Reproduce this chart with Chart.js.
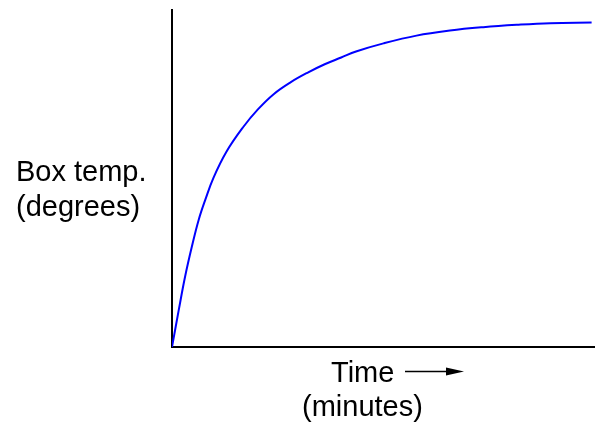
<!DOCTYPE html>
<html>
<head>
<meta charset="utf-8">
<script src="https://cdn.jsdelivr.net/npm/chart.js@4"></script>
<style>
html,body{margin:0;padding:0;background:#fff;}
#wrap{width:595px;height:427px;}
</style>
</head>
<body>
<div id="wrap"><canvas id="c" width="595" height="427"></canvas></div>
<script>
// Time (arbitrary units, 0..100 spans the x axis)
const timeValues = [0, 1.6, 3.1, 4.7, 6.3, 7.9, 9.8, 12.9, 16.8, 20.3, 24.1, 28.1, 32.2, 36.1, 40.0, 43.5, 50.0, 57.8, 65.7, 73.6, 81.5, 89.4, 99.2];
// Box temperature (arbitrary units, 0..100 spans the y axis)
const tempValues = [0, 11.0, 20.9, 29.8, 37.7, 43.8, 50.2, 58.0, 65.2, 70.5, 75.1, 78.6, 81.5, 83.9, 85.9, 87.7, 90.1, 92.4, 93.9, 94.9, 95.6, 96.1, 96.3];
const yLabelLines = ["Box temp.", "(degrees)"];
const xLabelLines = ["Time", "(minutes)"];

const points = timeValues.map((t, i) => ({x: t, y: tempValues[i]}));

const labelPlugin = {
  id: 'labels',
  afterDraw(chart) {
    const ctx = chart.ctx;
    ctx.save();
    ctx.fillStyle = '#000';
    ctx.font = '29px "Liberation Sans", Arial, sans-serif';
    ctx.textBaseline = 'alphabetic';
    ctx.textAlign = 'left';
    ctx.fillText(yLabelLines[0], 16, 181);
    ctx.fillText(yLabelLines[1], 16, 216);
    ctx.fillText(xLabelLines[0], 331, 382);
    ctx.fillText(xLabelLines[1], 302, 416);
    // arrow
    ctx.strokeStyle = '#000';
    ctx.lineWidth = 1.5;
    ctx.beginPath();
    ctx.moveTo(405, 371.5);
    ctx.lineTo(450, 371.5);
    ctx.stroke();
    ctx.beginPath();
    ctx.moveTo(464, 371.5);
    ctx.lineTo(446, 367.5);
    ctx.lineTo(446, 375.5);
    ctx.closePath();
    ctx.fill();
    ctx.restore();
  }
};

new Chart(document.getElementById('c'), {
  type: 'line',
  data: {
    datasets: [{
      data: points,
      borderColor: '#0000ff',
      borderWidth: 2,
      pointRadius: 0,
      fill: false,
      tension: 0.4
    }]
  },
  options: {
    responsive: false,
    animation: false,
    devicePixelRatio: 1,
    layout: {padding: {left: 172, top: 10, right: 0, bottom: 80}},
    plugins: {legend: {display: false}, tooltip: {enabled: false}},
    scales: {
      x: {
        type: 'linear', min: 0, max: 100,
        ticks: {display: false},
        grid: {display: false, drawTicks: false},
        border: {display: true, color: '#000', width: 2}
      },
      y: {
        type: 'linear', min: 0, max: 100,
        ticks: {display: false},
        grid: {display: false, drawTicks: false},
        border: {display: true, color: '#000', width: 2}
      }
    }
  },
  plugins: [labelPlugin]
});
</script>
</body>
</html>
